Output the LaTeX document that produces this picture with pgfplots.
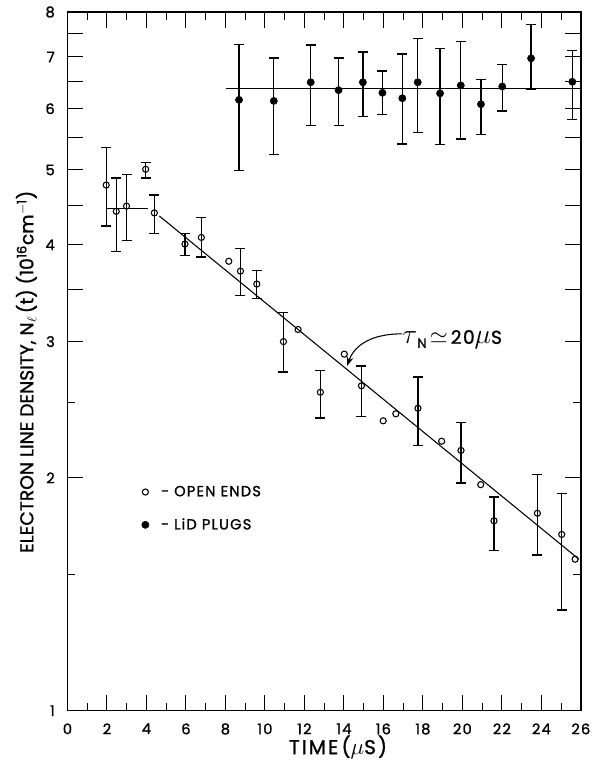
\documentclass[border=0pt]{standalone}
\usepackage{fontspec}
\setmainfont{Poppins}[FakeBold=1.2]
\newfontfamily\lab[FakeBold=1.2]{Poppins}
\newfontfamily\labsp[LetterSpace=8,FakeBold=1.2]{Poppins}
\usepackage{pgfplots}
\pgfplotsset{compat=1.18}
\usetikzlibrary{arrows.meta}

\pgfplotstableread{
x y ep em
1.96 4.78 0.57 0.55
2.47 4.42 0.46 0.50
2.99 4.49 0.44 0.44
3.96 5.01 0.10 0.13
4.40 4.40 0.24 0.26
5.95 4.01 0.13 0.13
6.78 4.09 0.25 0.23
8.76 3.70 0.26 0.26
9.59 3.56 0.15 0.15
10.94 3.00 0.27 0.26
12.81 2.58 0.17 0.19
14.89 2.63 0.16 0.23
17.75 2.46 0.24 0.26
19.93 2.17 0.19 0.20
21.60 1.76 0.13 0.15
23.80 1.80 0.22 0.21
25.03 1.69 0.22 0.34
}\openbars

\pgfplotstableread{
x y
8.17 3.81
11.68 3.11
14.02 2.89
15.99 2.37
16.63 2.42
18.95 2.23
20.93 1.96
25.71 1.57
}\opennobars

\pgfplotstableread{
x y ep em
8.69 6.16 1.10 1.17
10.45 6.14 0.84 0.90
12.32 6.49 0.76 0.78
13.73 6.34 0.64 0.63
14.96 6.49 0.61 0.63
15.95 6.29 0.42 0.39
16.96 6.19 0.87 0.79
17.74 6.49 0.90 0.90
18.87 6.28 0.90 0.89
19.92 6.43 0.90 0.95
20.94 6.08 0.47 0.52
22.02 6.41 0.43 0.45
23.48 6.97 0.74 0.62
25.57 6.50 0.63 0.69
}\filled

\begin{document}
\begin{tikzpicture}
\useasboundingbox (-50.6pt,-37.7pt) rectangle (397.9pt,533pt);
\begin{axis}[
  at={(0,0)}, anchor=south west,
  scale only axis, width=385pt, height=524pt,
  xmin=0, xmax=26, ymode=log, ymin=1, ymax=8,
  xtick={0,2,...,26}, minor xtick={1,3,...,25},
  ytick={1,2,3,4,5,6,7,8}, yticklabels={1,2,3,4,5,6,7,8},
  minor ytick={1.5,2.5},
  extra y ticks={3.5,4.5,5.5,6.5,7.5}, extra y tick labels={},
  extra y tick style={major tick length=12pt},
  tick align=inside, major tick length=12pt, minor tick length=6pt,
  every tick/.style={line width=0.8pt, black},
  axis line style={line width=1pt},
  /pgf/number format/assume math mode=true,
  ticklabel style={font=\labsp\fontsize{11}{13}\selectfont},
  xticklabel style={yshift=-6pt},
  yticklabel style={xshift=-6pt},
  xlabel={TIME\,({\fontsize{18}{18}\selectfont$\mu$}S)},
  ylabel={ELECTRON LINE DENSITY, N$_{\ell}$\,(t) (10\textsuperscript{16}cm\textsuperscript{$-$1})},
  x label style={at={(axis description cs:0.527,-0.035)}, anchor=north, inner sep=0pt,
    font=\addfontfeatures{LetterSpace=10}\fontsize{15}{17}\selectfont},
  y label style={at={(axis description cs:-0.080,0.485)}, anchor=center, inner sep=0pt,
    font=\lab\fontsize{14}{16}\selectfont},
  legend style={at={(axis cs:3.75,1.97)}, anchor=north west, draw=none, fill=none,
    font=\labsp\fontsize{11}{13}\selectfont, row sep=11pt, inner sep=0pt},
  legend cell align=left,
]
\addlegendimage{only marks, mark=o, mark size=2.3pt, black, mark options={fill=white, line width=0.8pt}}
\addlegendentry{\hspace{7pt}- OPEN ENDS}
\addlegendimage{only marks, mark=*, mark size=2.7pt, black}
\addlegendentry{\hspace{7pt}- LiD PLUGS}

\addplot[black, line width=0.8pt, forget plot] coordinates {(2.0,4.46) (4.1,4.46)};
\addplot[black, line width=0.8pt, forget plot] coordinates {(4.65,4.36) (25.9,1.57)};
\addplot[black, line width=0.8pt, forget plot] coordinates {(8.05,6.37) (26,6.37)};

\addplot[black, only marks, mark=o, mark size=2.3pt, mark options={fill=white, line width=0.8pt}, forget plot,
  error bars/.cd, y dir=both, y explicit,
  error bar style={line width=1pt},
  error mark options={rotate=90, mark size=3.75pt, line width=1pt}]
  table[x=x, y=y, y error plus=ep, y error minus=em] {\openbars};
\addplot[black, only marks, mark=o, mark size=2.3pt, mark options={fill=white, line width=0.8pt}, forget plot]
  table[x=x, y=y] {\opennobars};
\addplot[black, only marks, mark=*, mark size=2.7pt, forget plot,
  error bars/.cd, y dir=both, y explicit,
  error bar style={line width=1pt},
  error mark options={rotate=90, mark size=3.75pt, line width=1pt}]
  table[x=x, y=y, y error plus=ep, y error minus=em] {\filled};

\draw[line width=0.8pt, -{Stealth[length=7pt, width=5pt]}] (axis cs:16.95,3.07) .. controls (axis cs:15.1,3.07) and (axis cs:14.45,2.93) .. (axis cs:14.16,2.79);
\node[anchor=base west, inner sep=0pt, font=\labsp\fontsize{14}{16}\selectfont] at (axis cs:16.95,2.98)
  {{\fontsize{22}{22}\selectfont$\tau$}\raisebox{-3pt}{\fontsize{10}{10}\selectfont N}\,{\fontsize{16}{16}\selectfont$\simeq$}\,20{\fontsize{20}{20}\selectfont$\mu$}S};
\end{axis}
\end{tikzpicture}
\end{document}
